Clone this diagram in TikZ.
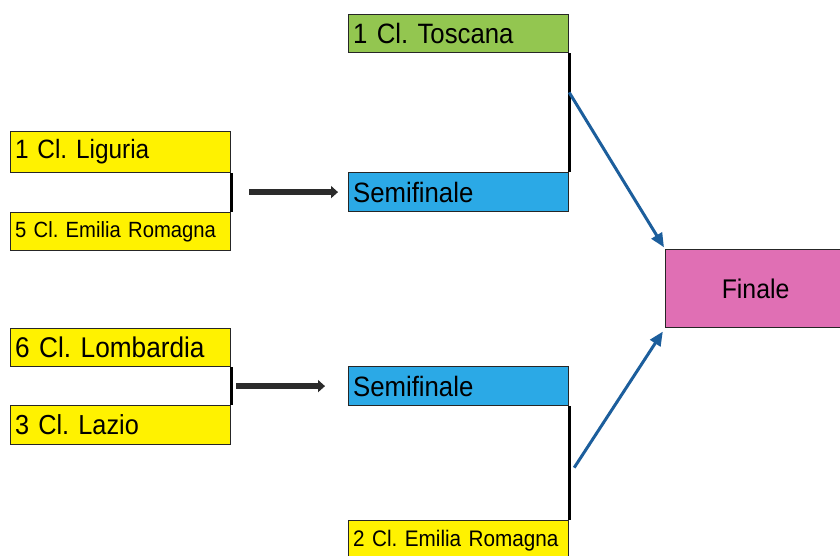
\documentclass[tikz,border=0pt]{standalone}
\usepackage{fontspec}
\setmainfont[FakeStretch=0.92]{Liberation Sans}
\usetikzlibrary{arrows.meta,calc}
\frenchspacing
\definecolor{yel}{HTML}{FFF200}
\definecolor{grn}{HTML}{93C650}
\definecolor{blu}{HTML}{2BA9E6}
\definecolor{pnk}{HTML}{E06FB4}
\definecolor{arrblue}{HTML}{1C5E9C}
\definecolor{arrdark}{HTML}{2B2B2B}
\tikzset{
  team/.style={draw=black!85, line width=1.2pt, rectangle, anchor=north west,
    minimum width=220pt, text width=211pt, inner xsep=4.5pt, inner ysep=0pt, align=left},
  bracket/.style={draw=black, line width=2.6pt},
  fwd/.style={draw=arrdark, line width=6pt, -{Triangle[length=7pt,width=12pt]}},
  tofin/.style={draw=arrblue, line width=3pt, -{Triangle[length=14pt,width=12pt]}},
}
\begin{document}
\begin{tikzpicture}[x=1pt,y=-1pt]
\useasboundingbox[fill=white] (0,0) rectangle (840,555);
% left column
\node[team, fill=yel, minimum height=41pt, font=\fontsize{26.5}{28}\selectfont] (lig) at (10,131) {1 Cl. Liguria};
\node[team, fill=yel, minimum height=38pt, font=\fontsize{22}{24}\selectfont] (emi5) at (10,212) {5 Cl. Emilia Romagna};
\node[team, fill=yel, minimum height=38pt, font=\fontsize{28.5}{30}\selectfont] (lom) at (10,328) {6 Cl. Lombardia};
\node[team, fill=yel, minimum height=39pt, font=\fontsize{27.5}{29}\selectfont] (laz) at (10,405) {3 Cl. Lazio};
% middle column
\node[team, fill=grn, minimum height=38pt, font=\fontsize{28}{30}\selectfont] (tos) at (348,14) {1 Cl. Toscana};
\node[team, fill=blu, minimum height=39pt, font=\fontsize{28}{30}\selectfont] (semi1) at (348,172) {Semifinale};
\node[team, fill=blu, minimum height=39pt, font=\fontsize{28}{30}\selectfont] (semi2) at (348,366) {Semifinale};
\node[team, fill=yel, minimum height=40pt, font=\fontsize{22.5}{24}\selectfont] (emi2) at (348,520) {2 Cl. Emilia Romagna};
% final
\node[draw=black!85, line width=1.2pt, fill=pnk, anchor=north west, minimum width=180pt,
  minimum height=78pt, font=\fontsize{27}{29}\selectfont] (fin) at (665,249) {Finale};
% brackets
\draw[bracket] (lig.south east) -- (emi5.north east);
\draw[bracket] (lom.south east) -- (laz.north east);
\draw[bracket] (tos.south east) -- (semi1.north east);
\draw[bracket] (semi2.south east) -- (emi2.north east);
% forward arrows
\draw[fwd, shorten <=18pt, shorten >=10pt] (semi1.west -| lig.east) -- (semi1.west);
\draw[fwd, shorten <=5pt, shorten >=23pt] (semi2.west -| lom.east) -- (semi2.west);
% arrows to final
\coordinate (b1) at ($(tos.south east)!0.33!(semi1.north east)$);
\coordinate (b2) at ($(semi2.south east)!0.54!(emi2.north east)+(5,0)$);
\draw[tofin, shorten >=2pt] (b1) -- (fin.north west);
\draw[tofin, shorten >=4pt] (b2) -- (fin.south west);
\end{tikzpicture}
\end{document}
